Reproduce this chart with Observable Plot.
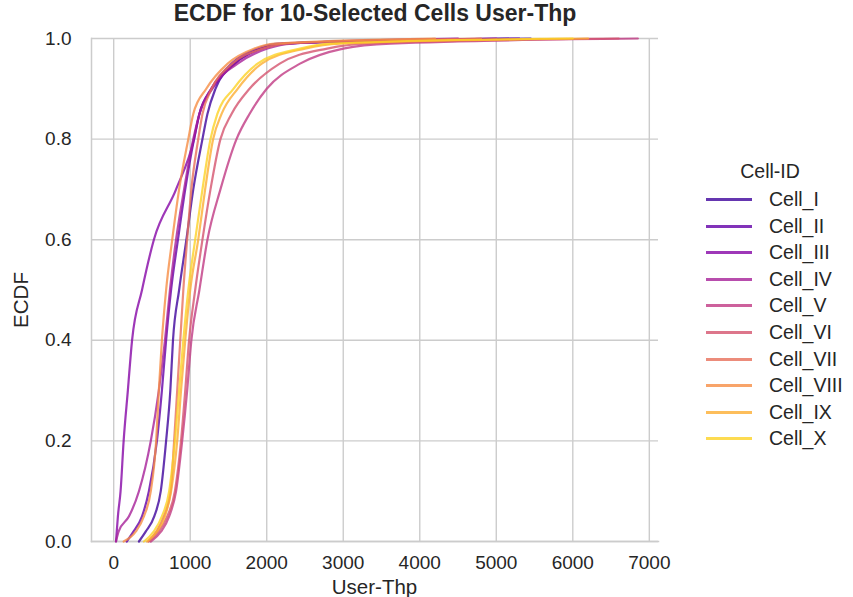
<!DOCTYPE html>
<html>
<head>
<meta charset="utf-8">
<script src="https://cdn.jsdelivr.net/npm/d3@7"></script>
<script src="https://cdn.jsdelivr.net/npm/@observablehq/plot@0.6"></script>
<style>
  body { margin: 0; background: #fff; font-family: "Liberation Sans", Arial, sans-serif; color: #262626; }
  #wrap { position: relative; width: 853px; height: 597px; overflow: hidden; }
  #chart { position: absolute; left: 0; top: 0; }
  .title { position: absolute; left: 75px; width: 600px; top: 0px; text-align: center; font-weight: bold; font-size: 23px; line-height: 26px; }
  .xlabel { position: absolute; left: 91px; width: 567px; top: 575px; text-align: center; font-size: 20.5px; line-height: 23px; }
  .ylabel { position: absolute; left: 20px; top: 300px; transform: translate(-50%, -50%) rotate(-90deg); font-size: 20.5px; line-height: 23px; white-space: nowrap; }
  .legend { position: absolute; left: 700px; top: 160px; }
  .legend .lt { position: absolute; left: 0; width: 140px; top: 0; text-align: center; font-size: 19.5px; line-height: 22px; }
  .legend .row { position: absolute; left: 0; height: 22px; display: flex; align-items: center; }
  .legend .sw { width: 46px; height: 2.5px; margin-left: 6px; margin-right: 17px; }
  .legend .tx { font-size: 19.5px; line-height: 22px; }
</style>
</head>
<body>
<div id="wrap">
  <div id="chart"></div>
  <div class="title">ECDF for 10-Selected Cells User-Thp</div>
  <div class="xlabel">User-Thp</div>
  <div class="ylabel">ECDF</div>
  <div class="legend" id="legend"></div>
</div>
<script>
const levels = [0, 0.02, 0.05, 0.1, 0.2, 0.3, 0.4, 0.5, 0.6, 0.7, 0.8, 0.85, 0.9, 0.95, 0.98, 0.99, 1.0];

const cells = ["Cell_I", "Cell_II", "Cell_III", "Cell_IV", "Cell_V", "Cell_VI", "Cell_VII", "Cell_VIII", "Cell_IX", "Cell_X"];

const cellI    = [330, 420, 530, 615, 685, 740, 775, 855, 950, 1040, 1160, 1225, 1330, 1580, 1935, 2240, 5450];
const cellII   = [170, 260, 370, 460, 565, 630, 685, 750, 840, 935, 1050, 1120, 1275, 1540, 1880, 2145, 5300];
const cellIII  = [30, 40, 55, 90, 130, 185, 240, 370, 525, 815, 1050, 1120, 1290, 1580, 1935, 2240, 4500];
const cellIV   = [30, 65, 200, 330, 485, 590, 670, 735, 815, 920, 1040, 1120, 1275, 1620, 2010, 2330, 5000];
const cellV    = [485, 620, 725, 815, 895, 960, 1015, 1120, 1225, 1395, 1605, 1775, 2000, 2435, 3000, 3620, 6850];
const cellVI   = [460, 590, 700, 800, 880, 935, 985, 1065, 1160, 1265, 1395, 1540, 1775, 2170, 2790, 3290, 6600];
const cellVII  = [450, 560, 655, 745, 790, 830, 870, 910, 960, 1015, 1105, 1160, 1280, 1550, 1950, 2260, 4800];
const cellVIII = [130, 290, 395, 485, 555, 590, 630, 685, 765, 855, 975, 1040, 1210, 1490, 1840, 2105, 4200];
const cellIX   = [435, 565, 670, 750, 830, 880, 935, 1000, 1105, 1195, 1300, 1410, 1620, 1935, 2500, 2960, 6200];
const cellX    = [395, 525, 630, 725, 800, 855, 910, 975, 1065, 1160, 1265, 1355, 1565, 1880, 2435, 2830, 6000];

const xTicks = [0, 1000, 2000, 3000, 4000, 5000, 6000, 7000];
const yTicks = [0, 0.2, 0.4, 0.6, 0.8, 1.0];

const series = [cellI, cellII, cellIII, cellIV, cellV, cellVI, cellVII, cellVIII, cellIX, cellX];
const rows = cells.flatMap((c, i) => series[i].map((v, j) => ({cell: c, thp: v, ecdf: levels[j]})));

const palette = cells.map((_, i) => d3.interpolatePlasma((i + 1) / (cells.length + 1)));

const chart = Plot.plot({
  width: 853,
  height: 597,
  marginLeft: 91,
  marginRight: 195,
  marginTop: 38,
  marginBottom: 56,
  style: {fontFamily: "'Liberation Sans', Arial, sans-serif", fontSize: "19px", color: "#262626", background: "#fff", overflow: "visible"},
  x: {domain: [-290, 7120], label: null},
  y: {domain: [0, 1], label: null},
  color: {domain: cells, range: palette},
  marks: [
    Plot.gridX(xTicks, {stroke: "#cccccc", strokeOpacity: 1, strokeWidth: 1.4}),
    Plot.gridY(yTicks, {stroke: "#cccccc", strokeOpacity: 1, strokeWidth: 1.4}),
    Plot.frame({anchor: "left", stroke: "#cccccc", strokeWidth: 1.5}),
    Plot.frame({anchor: "bottom", stroke: "#cccccc", strokeWidth: 1.5}),
    Plot.axisX(xTicks, {tickSize: 0, tickPadding: 14, tickFormat: d => String(d), label: null}),
    Plot.axisY(yTicks, {tickSize: 0, tickPadding: 20, tickFormat: d => d.toFixed(1), label: null}),
    Plot.line(rows, {x: "thp", y: "ecdf", z: "cell", stroke: "cell", strokeWidth: 2.2, strokeOpacity: 0.8, curve: "monotone-x"})
  ]
});
document.getElementById("chart").appendChild(chart);

const lg = document.getElementById("legend");
const lt = document.createElement("div");
lt.className = "lt";
lt.textContent = "Cell-ID";
lg.appendChild(lt);
cells.forEach((c, i) => {
  const row = document.createElement("div");
  row.className = "row";
  row.style.top = Math.round(28 + i * 26.6) + "px";
  const sw = document.createElement("div");
  sw.className = "sw";
  sw.style.background = palette[i];
  sw.style.opacity = 0.8;
  sw.style.height = "3px";
  const tx = document.createElement("span");
  tx.className = "tx";
  tx.textContent = c;
  row.appendChild(sw);
  row.appendChild(tx);
  lg.appendChild(row);
});
</script>
</body>
</html>
